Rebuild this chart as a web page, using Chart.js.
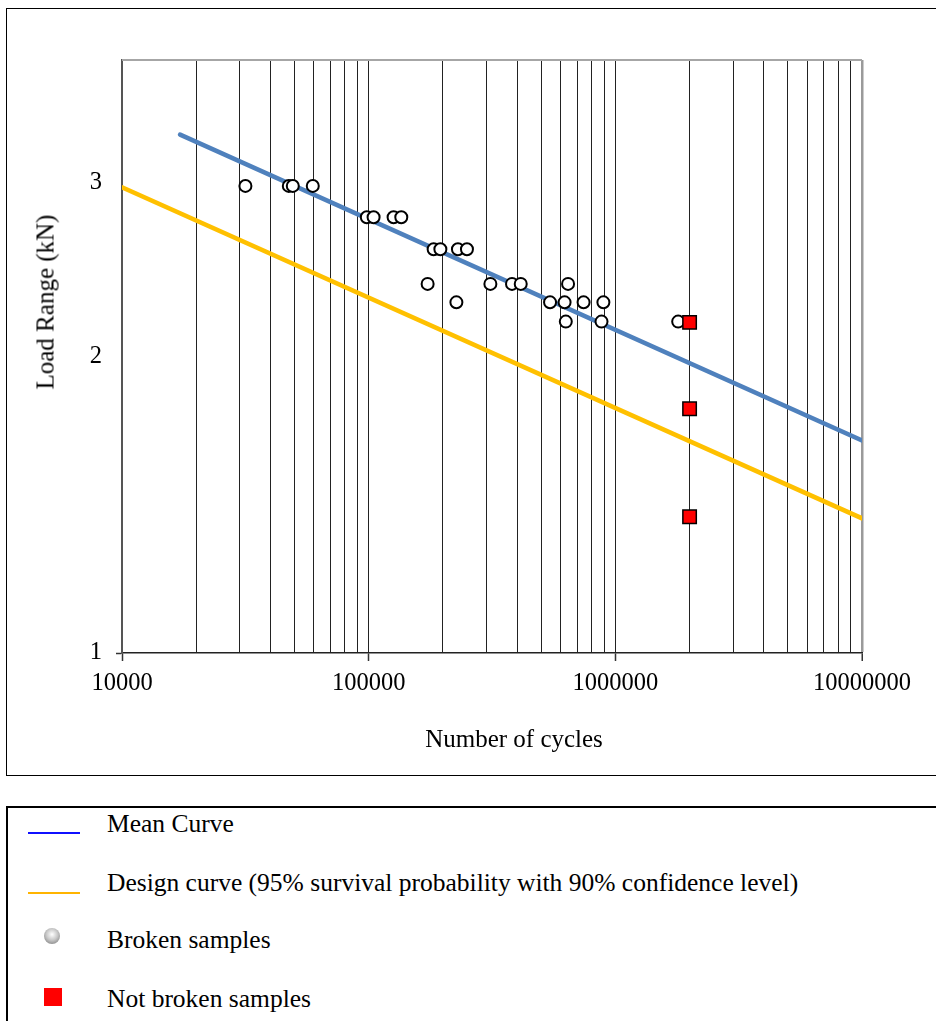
<!DOCTYPE html>
<html>
<head>
<meta charset="utf-8">
<script src="https://cdn.jsdelivr.net/npm/chart.js@4/dist/chart.umd.min.js"></script>
<style>
  body { margin: 0; background: #fff; font-family: "Liberation Serif", "Times New Roman", serif; font-size: 25px; color: #000; }
  #frame { position: absolute; left: 6px; top: 8px; width: 945px; height: 766px; border: 1px solid #000; }
  #c { position: absolute; left: 0; top: 0; }
  .ttl { position: absolute; white-space: nowrap; line-height: 1; }
  #ytitle { left: 45px; top: 302px; transform: translate(-50%, -50%) rotate(-90deg); }
  #xtitle { left: 514px; top: 738px; transform: translate(-50%, -50%); }
  #legend { position: absolute; left: 6px; top: 806px; width: 945px; height: 230px; border: 2px solid #000; font-size: 25.5px; }
  .row { position: absolute; left: 99px; white-space: nowrap; line-height: 1; transform: translateY(-50%); }
  .sym { position: absolute; }
</style>
</head>
<body>
<div id="frame"></div>
<canvas id="c" width="936" height="790"></canvas>
<div class="ttl" id="ytitle">Load Range (kN)</div>
<div class="ttl" id="xtitle">Number of cycles</div>

<div id="legend">
  <div class="sym" style="left:20px; top:24px; width:52px; height:1.6px; background:#1010ff;"></div>
  <div class="row" style="top:16px;">Mean Curve</div>
  <div class="sym" style="left:20px; top:84px; width:52px; height:1.6px; background:#ffb400;"></div>
  <div class="row" style="top:75px;">Design curve (95% survival probability with 90% confidence level)</div>
  <div class="sym" style="left:36px; top:120px; width:16px; height:16px; border-radius:50%;
       background: radial-gradient(circle at 50% 40%, #ffffff 0%, #c8c8c8 45%, #6e6e6e 100%);"></div>
  <div class="row" style="top:132px;">Broken samples</div>
  <div class="sym" style="left:36px; top:180px; width:18px; height:18px; background:#ff0000;"></div>
  <div class="row" style="top:191px;">Not broken samples</div>
</div>

<script>
// ticks
const xMajorTicks = [10000, 100000, 1000000, 10000000];
const yTicks = [1, 2, 3];

// mean curve and design curve (end points)
const meanN = [17200, 10000000];
const meanLoad = [3.36, 1.644];
const designN = [10000, 10000000];
const designLoad = [2.97, 1.37];

// broken samples
const brokenN = [31650, 47450, 49250, 59350,
                 98300, 104700, 126200, 135600,
                 183400, 195300, 230100, 250300,
                 173400, 311500, 381200, 413500, 643200,
                 226800, 543700, 622700, 743500, 894500,
                 629800, 879000, 1798000];
const brokenLoad = [2.98, 2.98, 2.98, 2.98,
                    2.77, 2.77, 2.77, 2.77,
                    2.57, 2.57, 2.57, 2.57,
                    2.37, 2.37, 2.37, 2.37, 2.37,
                    2.27, 2.27, 2.27, 2.27, 2.27,
                    2.17, 2.17, 2.17];

// not broken samples (run-outs)
const notBrokenN = [2000000, 2000000, 2000000];
const notBrokenLoad = [2.166, 1.77, 1.375];

function pts(xs, ys) {
  return xs.map((x, i) => ({ x: x, y: ys[i] }));
}

const tickFont = { family: '"Liberation Serif", "Times New Roman", serif', size: 24.5 };

// grey top edge of the plot area
const plotEdges = {
  id: 'plotEdges',
  beforeDatasetsDraw(chart) {
    const a = chart.chartArea, ctx = chart.ctx;
    ctx.save();
    ctx.strokeStyle = '#a6a6a6';
    ctx.lineWidth = 2;
    ctx.beginPath();
    ctx.moveTo(a.left, a.top);
    ctx.lineTo(a.right, a.top);
    ctx.stroke();
    ctx.restore();
  }
};

new Chart(document.getElementById('c'), {
  type: 'scatter',
  data: {
    datasets: [
      {
        label: 'Not broken samples',
        data: pts(notBrokenN, notBrokenLoad),
        pointStyle: 'rect',
        pointRadius: 9.5,
        backgroundColor: '#ff0000',
        borderColor: '#000',
        borderWidth: 1.5
      },
      {
        label: 'Broken samples',
        data: pts(brokenN, brokenLoad),
        pointRadius: 6,
        backgroundColor: '#fff',
        borderColor: '#000',
        borderWidth: 2
      },
      {
        label: 'Mean Curve',
        data: pts(meanN, meanLoad),
        showLine: true,
        pointRadius: 0,
        borderColor: '#4f81bd',
        borderWidth: 4.5,
        borderCapStyle: 'round',
        clip: 0
      },
      {
        label: 'Design curve (95% survival probability with 90% confidence level)',
        data: pts(designN, designLoad),
        showLine: true,
        pointRadius: 0,
        borderColor: '#ffc000',
        borderWidth: 4.5,
        borderCapStyle: 'round',
        clip: 0
      }
    ]
  },
  options: {
    responsive: false,
    animation: false,
    layout: { padding: { left: 0, top: 60, right: 74, bottom: 0 } },
    plugins: { legend: { display: false }, tooltip: { enabled: false } },
    scales: {
      x: {
        type: 'logarithmic',
        min: 10000,
        max: 10000000,
        afterBuildTicks: function (axis) {
          const t = [];
          for (let d = 0; d < xMajorTicks.length; d++) {
            t.push({ value: xMajorTicks[d], major: true });
            if (d < xMajorTicks.length - 1) {
              for (let m = 2; m <= 9; m++) t.push({ value: xMajorTicks[d] * m });
            }
          }
          axis.ticks = t;
        },
        afterFit: function (axis) { axis.height = 137; },
        ticks: {
          autoSkip: false,
          maxRotation: 0,
          padding: 8,
          color: '#000',
          font: tickFont,
          callback: v => xMajorTicks.includes(v) ? String(v) : ''
        },
        grid: {
          color: ctx => (ctx.tick && ctx.tick.value === 10000000) ? '#9a9a9a' : '#222',
          lineWidth: ctx => (ctx.tick && ctx.tick.value === 10000000) ? 2.5 : 1,
          tickColor: ctx => (ctx.tick && xMajorTicks.includes(ctx.tick.value)) ? '#333' : 'rgba(0,0,0,0)',
          tickLength: 8,
          tickWidth: 1.5
        },
        border: { color: '#222', width: 1.5 }
      },
      y: {
        type: 'logarithmic',
        min: 1,
        max: 4,
        afterBuildTicks: function (axis) {
          axis.ticks = yTicks.map(v => ({ value: v }));
        },
        afterFit: function (axis) { axis.width = 122; },
        ticks: {
          padding: 14,
          color: '#000',
          font: tickFont,
          callback: v => String(v)
        },
        grid: {
          drawOnChartArea: false,
          tickLength: 6,
          tickWidth: 1.5,
          tickColor: ctx => (ctx.tick && ctx.tick.value === 1) ? '#333' : 'rgba(0,0,0,0)'
        },
        border: { color: '#555', width: 2 }
      }
    }
  },
  plugins: [plotEdges]
});
</script>
</body>
</html>
